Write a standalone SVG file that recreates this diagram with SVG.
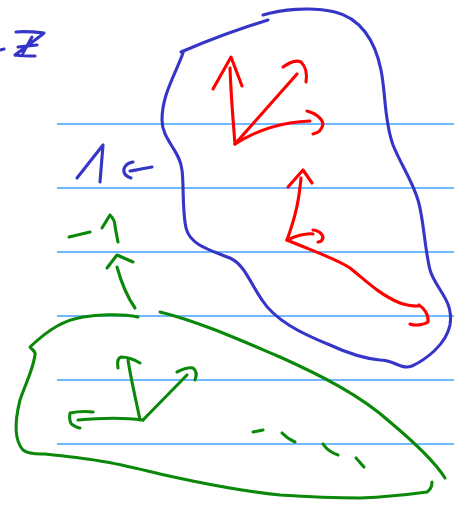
<svg xmlns="http://www.w3.org/2000/svg" width="454" height="506" viewBox="0 0 454 506">
<style>
.rule{stroke:#40a0ff;stroke-width:1.4;fill:none}
.b{stroke:#3535c8;stroke-width:3.1;fill:none;stroke-linecap:round;stroke-linejoin:round}
.r{stroke:#ff0000;stroke-width:3.1;fill:none;stroke-linecap:round;stroke-linejoin:round}
.g{stroke:#0a880a;stroke-width:3.1;fill:none;stroke-linecap:round;stroke-linejoin:round}
</style>
<rect width="454" height="506" fill="#ffffff"/>
<g id="rules">
<line class="rule" x1="57" y1="124" x2="454" y2="124"/>
<line class="rule" x1="57" y1="188" x2="454" y2="188"/>
<line class="rule" x1="57" y1="252" x2="454" y2="252"/>
<line class="rule" x1="57" y1="316" x2="454" y2="316"/>
<line class="rule" x1="57" y1="380" x2="454" y2="380"/>
<line class="rule" x1="57" y1="444" x2="454" y2="444"/>
</g>
<g id="z-mark">
<path class="b" d="M0,50 L4,49"/>
<path class="b" d="M16,32 C25,31 35,32 44,33 M43,34 L15,55 M15,55 C22,56 28,56 35,56 M18,47 L37,45 M32,37 L23,53"/>
</g>
<g id="blue-blob">
<path class="b" d="M181,52 Q225,33 268,20"/>
<path class="b" d="M263,15 C280,10 310,6 335,12 C360,18 375,40 381,70 C386,95 384,120 393,145 C401,165 412,180 418,200 C424,220 424,245 430,270 C436,290 454,300 450,325 C446,345 425,360 412,366 C400,370 395,360 380,360 C360,358 345,352 330,345 C300,333 275,320 262,300 C250,283 245,265 230,258 C210,250 190,245 186,228 C182,210 184,185 182,170 C180,150 162,140 162,120 C162,95 175,75 183,53"/>
</g>
<g id="blue-one">
<path class="b" d="M77,178 L103,145 L100,182"/>
<path class="b" d="M152,167 C145,168 138,170 130,171 M133,162 C126,163 123,168 124,172 C125,176 128,177 131,178"/>
</g>
<g id="red-arrows">
<path class="r" d="M235,144 C233,120 231,95 230,68 M213,89 L231,57 L242,86"/>
<path class="r" d="M235,144 L297,74 M283,67 C290,62 297,60 301,62 C307,68 307,76 306,82"/>
<path class="r" d="M235,144 C260,128 285,122 310,121 M307,111 C315,113 322,118 323,124 C322,130 318,133 313,134"/>
<path class="r" d="M288,187 L303,170 L312,183 M301,178 C299,200 296,215 287,240"/>
<path class="r" d="M287,240 C296,236 305,233 313,234 M313,230 C318,230 323,234 323,238 C322,241 320,242 318,242"/>
<path class="r" d="M287,240 C310,250 335,258 350,268 C365,280 380,295 400,303 C408,306 413,306 418,306 M419,305 C424,308 429,315 428,322 C424,325 415,326 410,324"/>
</g>
<g id="green-stack">
<path class="g" d="M69,237 L90,232"/>
<path class="g" d="M102,228 L110,215 C113,218 115,222 115,226 C116,232 117,237 118,242"/>
<path class="g" d="M107,268 L117,255 L133,262 M117,267 C122,285 128,298 135,308"/>
</g>
<g id="green-blob">
<path class="g" d="M160,312 C200,322 240,340 280,357 C320,375 360,395 390,422 C415,443 435,462 445,478"/>
<path class="g" d="M138,317 C120,313 95,315 83,317 C65,320 50,328 30,347 C32,350 36,351 35,355 C33,370 25,385 20,400 C15,420 14,440 23,450 C30,455 40,454 45,454 C65,456 83,458 100,461 C120,464 135,468 160,474 C200,483 240,491 280,495 C310,497 340,498 360,498 C385,497 405,495 427,492 C430,490 432,486 432,482"/>
</g>
<g id="green-arrows">
<path class="g" d="M118,368 C117,362 118,358 121,357 C128,357 135,360 140,363 M128,360 C131,380 136,400 140,420"/>
<path class="g" d="M143,420 C120,417 100,418 78,420 M93,412 C85,411 75,412 70,413 C69,418 70,424 73,425 C76,427 78,428 80,428"/>
<path class="g" d="M143,420 L187,375 M177,372 C183,369 188,367 193,368 C197,371 197,375 195,380"/>
</g>
<g id="green-dashes">
<path class="g" d="M253,432 L263,430 M282,433 C286,437 290,440 295,442 M323,444 C327,450 332,453 338,455 M356,458 C359,461 361,464 364,467"/>
</g>
</svg>
